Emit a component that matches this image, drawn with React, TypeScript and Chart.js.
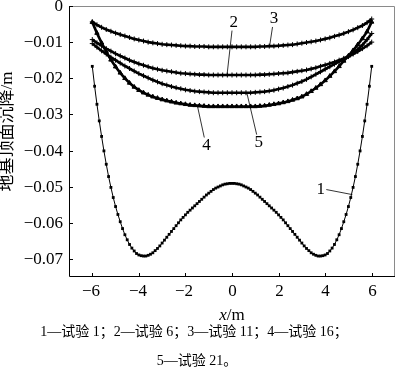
import React, { useEffect, useRef } from "react";
import { Chart, registerables } from "chart.js";

Chart.register(...registerables);

// ---------- data ----------
const xTicks = [-6, -4, -2, 0, 2, 4, 6];
const yTicks = [0, -0.01, -0.02, -0.03, -0.04, -0.05, -0.06, -0.07];

// sample positions (x, m)
const xFine = Array.from({ length: 121 }, (_, i) => Math.round((-6 + i * 0.1) * 10) / 10);
const xCoarse = Array.from({ length: 61 }, (_, i) => Math.round((-6 + i * 0.2) * 10) / 10);

// 试验 1 (x = -6 .. 6, step 0.1)
const test1 = [
  -0.0167, -0.0222, -0.0272, -0.0318, -0.0361, -0.0401, -0.0438, -0.0472, -0.0502, -0.0530,
  -0.0555, -0.0577, -0.0597, -0.0616, -0.0633, -0.0647, -0.0660, -0.0670, -0.0678, -0.0685,
  -0.0689, -0.0691, -0.0692, -0.0692, -0.0690, -0.0687, -0.0683, -0.0677, -0.0671, -0.0664,
  -0.0656, -0.0648, -0.0640, -0.0632, -0.0624, -0.0616, -0.0608, -0.0600, -0.0592, -0.0585,
  -0.0578, -0.0571, -0.0565, -0.0559, -0.0553, -0.0547, -0.0541, -0.0535, -0.0529, -0.0523,
  -0.0518, -0.0513, -0.0508, -0.0504, -0.0501, -0.0498, -0.0495, -0.0493, -0.0492, -0.0491,
  -0.0491,
  -0.0491, -0.0492, -0.0493, -0.0495, -0.0498, -0.0501, -0.0504, -0.0508, -0.0513, -0.0518,
  -0.0523, -0.0529, -0.0535, -0.0541, -0.0547, -0.0553, -0.0559, -0.0565, -0.0571, -0.0578,
  -0.0585, -0.0592, -0.0600, -0.0608, -0.0616, -0.0624, -0.0632, -0.0640, -0.0648, -0.0656,
  -0.0664, -0.0671, -0.0677, -0.0683, -0.0687, -0.0690, -0.0692, -0.0692, -0.0691, -0.0689,
  -0.0685, -0.0678, -0.0670, -0.0660, -0.0647, -0.0633, -0.0616, -0.0597, -0.0577, -0.0555,
  -0.0530, -0.0502, -0.0472, -0.0438, -0.0401, -0.0361, -0.0318, -0.0272, -0.0222, -0.0167,
];

// 试验 6 (x = -6 .. 6, step 0.2)
const test6 = [
  -0.0093, -0.0102, -0.0110, -0.0118, -0.0125, -0.0132, -0.0138, -0.0144, -0.0150, -0.0155,
  -0.0160, -0.0164, -0.0168, -0.0172, -0.0175, -0.0178, -0.0180, -0.0182, -0.0184, -0.0186,
  -0.0187, -0.0188, -0.0189, -0.0190, -0.0190, -0.0191, -0.0191, -0.0191, -0.0191, -0.0191,
  -0.0191,
  -0.0191, -0.0191, -0.0191, -0.0191, -0.0191, -0.0190, -0.0190, -0.0189, -0.0188, -0.0187,
  -0.0186, -0.0185, -0.0183, -0.0181, -0.0179, -0.0177, -0.0174, -0.0171, -0.0167, -0.0163,
  -0.0159, -0.0155, -0.0150, -0.0145, -0.0139, -0.0130, -0.0120, -0.0108, -0.0093, -0.0076,
];

// 试验 11
const test11 = [
  -0.0044, -0.0052, -0.0059, -0.0065, -0.0070, -0.0075, -0.0079, -0.0083, -0.0087, -0.0091,
  -0.0094, -0.0097, -0.0100, -0.0102, -0.0104, -0.0106, -0.0107, -0.0108, -0.0109, -0.0110,
  -0.0111, -0.0111, -0.0112, -0.0112, -0.0112, -0.0113, -0.0113, -0.0113, -0.0113, -0.0113,
  -0.0113,
  -0.0113, -0.0113, -0.0113, -0.0113, -0.0113, -0.0112, -0.0112, -0.0111, -0.0111, -0.0110,
  -0.0109, -0.0108, -0.0107, -0.0105, -0.0103, -0.0101, -0.0099, -0.0097, -0.0094, -0.0091,
  -0.0088, -0.0084, -0.0080, -0.0076, -0.0071, -0.0066, -0.0060, -0.0054, -0.0046, -0.0036,
];

// 试验 16
const test16 = [
  -0.0045, -0.0075, -0.0102, -0.0127, -0.0149, -0.0168, -0.0185, -0.0200, -0.0213, -0.0224,
  -0.0233, -0.0240, -0.0246, -0.0251, -0.0255, -0.0259, -0.0262, -0.0265, -0.0268, -0.0270,
  -0.0272, -0.0274, -0.0275, -0.0276, -0.0277, -0.0278, -0.0278, -0.0278, -0.0278, -0.0278,
  -0.0278,
  -0.0278, -0.0278, -0.0278, -0.0278, -0.0278, -0.0277, -0.0276, -0.0274, -0.0272, -0.0270,
  -0.0267, -0.0264, -0.0260, -0.0256, -0.0251, -0.0244, -0.0236, -0.0227, -0.0217, -0.0206,
  -0.0194, -0.0181, -0.0167, -0.0152, -0.0138, -0.0123, -0.0107, -0.0090, -0.0071, -0.0044,
];

// 试验 21
const test21 = [
  -0.0104, -0.0114, -0.0124, -0.0133, -0.0142, -0.0150, -0.0158, -0.0166, -0.0173, -0.0180,
  -0.0187, -0.0193, -0.0199, -0.0205, -0.0210, -0.0215, -0.0219, -0.0223, -0.0226, -0.0229,
  -0.0232, -0.0234, -0.0236, -0.0237, -0.0238, -0.0239, -0.0240, -0.0240, -0.0240, -0.0240,
  -0.0240,
  -0.0240, -0.0240, -0.0240, -0.0240, -0.0239, -0.0238, -0.0237, -0.0235, -0.0233, -0.0230,
  -0.0227, -0.0223, -0.0219, -0.0214, -0.0209, -0.0203, -0.0196, -0.0189, -0.0182, -0.0175,
  -0.0168, -0.0161, -0.0154, -0.0147, -0.0140, -0.0133, -0.0126, -0.0118, -0.0110, -0.0100,
];

const curveNames = ["1", "2", "3", "4", "5"];
const xTitleItalic = "x";
const xTitleRest = "/m";
const yTitle = "地基顶面沉降/m";
const captionLine1 = "1—试验 1；2—试验 6；3—试验 11；4—试验 16；";
const captionLine2 = "5—试验 21。";

// label text anchors and leader lines, in data units
const labelAnchors = [
  { x: 3.81, y: -0.0508, x0: 4.05, y0: -0.0508, x1: 5.17, y1: -0.0522 },
  { x: 0.08, y: -0.0045, x0: 0.0, y0: -0.0068, x1: -0.21, y1: -0.0189 },
  { x: 1.8, y: -0.0034, x0: 1.74, y0: -0.0058, x1: 1.61, y1: -0.0113 },
  { x: -1.1, y: -0.0387, x0: -1.19, y0: -0.0364, x1: -1.48, y1: -0.0278 },
  { x: 1.15, y: -0.0379, x0: 1.06, y0: -0.0356, x1: 0.64, y1: -0.0241 },
];

const SERIF = '"Liberation Serif", "Times New Roman", serif';
const MIXED = '"Liberation Serif", "Noto Sans CJK SC", serif';

const toPts = (xs: number[], ys: number[]) => xs.map((x, i) => ({ x, y: ys[i] }));
const fmtMinus = (v: number, d: number) => (v === 0 ? "0" : (v < 0 ? "\u2212" : "") + Math.abs(v).toFixed(d));

const decorPlugin = {
  id: "decor",
  afterDraw(chart: any) {
    const { ctx, chartArea: a, scales } = chart;
    const xs = scales.x;
    const ys = scales.y;
    ctx.save();
    // frame
    ctx.lineWidth = 1;
    ctx.strokeStyle = "#8a8a8a";
    ctx.beginPath();
    ctx.moveTo(a.left, a.top + 0.5);
    ctx.lineTo(a.right - 0.5, a.top + 0.5);
    ctx.lineTo(a.right - 0.5, a.bottom);
    ctx.stroke();
    ctx.strokeStyle = "#000";
    ctx.beginPath();
    ctx.moveTo(a.left + 0.5, a.top);
    ctx.lineTo(a.left + 0.5, a.bottom - 0.5);
    ctx.lineTo(a.right, a.bottom - 0.5);
    ctx.stroke();
    // inward tick marks + tick labels
    ctx.fillStyle = "#000";
    ctx.font = `17px ${SERIF}`;
    ctx.beginPath();
    ctx.textAlign = "center";
    ctx.textBaseline = "middle";
    xTicks.forEach((v) => {
      const px = Math.round(xs.getPixelForValue(v)) + 0.5;
      ctx.moveTo(px, a.bottom);
      ctx.lineTo(px, a.bottom - 4);
      const shift = v < 0 ? -1.5 : 0;
      ctx.fillText(fmtMinus(v, 0), px + shift, a.bottom + 15);
    });
    ctx.textAlign = "right";
    yTicks.forEach((v) => {
      const py = Math.round(ys.getPixelForValue(v)) + 0.5;
      ctx.moveTo(a.left, py);
      ctx.lineTo(a.left + 4, py);
      ctx.fillText(fmtMinus(v, 2), a.left - 6, py);
    });
    ctx.stroke();

    // curve labels + leaders
    ctx.font = `17px ${SERIF}`;
    ctx.textAlign = "center";
    ctx.textBaseline = "middle";
    ctx.lineWidth = 0.8;
    labelAnchors.forEach((l, i) => {
      ctx.fillText(curveNames[i], xs.getPixelForValue(l.x), ys.getPixelForValue(l.y));
      ctx.beginPath();
      ctx.moveTo(xs.getPixelForValue(l.x0), ys.getPixelForValue(l.y0));
      ctx.lineTo(xs.getPixelForValue(l.x1), ys.getPixelForValue(l.y1));
      ctx.stroke();
    });

    // x title
    const cx = xs.getPixelForValue(0);
    ctx.font = `italic 17px ${SERIF}`;
    const wI = ctx.measureText(xTitleItalic).width;
    ctx.font = `17px ${SERIF}`;
    const wR = ctx.measureText(xTitleRest).width;
    const sx = cx - (wI + wR) / 2;
    ctx.textAlign = "left";
    ctx.textBaseline = "alphabetic";
    ctx.font = `italic 17px ${SERIF}`;
    ctx.fillText(xTitleItalic, sx, 320);
    ctx.font = `17px ${SERIF}`;
    ctx.fillText(xTitleRest, sx + wI, 320);

    // y title
    ctx.save();
    ctx.translate(8, 131.5);
    ctx.rotate(-Math.PI / 2);
    ctx.textAlign = "center";
    ctx.textBaseline = "middle";
    ctx.font = `17px ${MIXED}`;
    ctx.fillText(yTitle, 0, 0);
    ctx.restore();

    // caption
    ctx.textAlign = "center";
    ctx.textBaseline = "middle";
    ctx.font = `14px ${MIXED}`;
    ctx.fillText(captionLine1, 194, 332);
    ctx.fillText(captionLine2, 197, 361);
    ctx.restore();
  },
};

export default function App() {
  const ref = useRef<HTMLCanvasElement | null>(null);
  useEffect(() => {
    document.body.style.margin = "0";
    const canvas = ref.current;
    if (!canvas) return;
    const black = "#000";
    const band = (label: string, ys: number[], style: string) => ({
      label,
      data: toPts(xCoarse, ys),
      borderColor: black,
      backgroundColor: black,
      borderWidth: 2.6,
      pointStyle: style,
      pointRadius: 2.5,
      pointBorderWidth: 1,
    });
    const chart = new Chart(canvas, {
      type: "line",
      data: {
        datasets: [
          {
            label: curveNames[0],
            data: toPts(xFine, test1),
            borderColor: black,
            backgroundColor: black,
            borderWidth: 1,
            pointStyle: "rect",
            pointRadius: 2,
            pointBorderWidth: 0,
          },
          band(curveNames[1], test6, "cross"),
          band(curveNames[2], test11, "cross"),
          band(curveNames[3], test16, "triangle"),
          band(curveNames[4], test21, "cross"),
        ],
      },
      options: {
        animation: false,
        responsive: true,
        maintainAspectRatio: false,
        layout: { padding: { top: 6, right: 2, left: 0, bottom: 0 } },
        plugins: { legend: { display: false }, tooltip: { enabled: false } },
        elements: { line: { tension: 0 } },
        scales: {
          x: {
            type: "linear",
            min: -7,
            max: 7,
            grid: { display: false },
            border: { display: false },
            ticks: { display: false },
            afterBuildTicks: (s: any) => {
              s.ticks = xTicks.map((v) => ({ value: v }));
            },
            afterFit: (s: any) => {
              s.height = 91;
            },
          },
          y: {
            type: "linear",
            min: -0.075,
            max: 0,
            grid: { display: false },
            border: { display: false },
            ticks: { display: false },
            afterBuildTicks: (s: any) => {
              s.ticks = yTicks.map((v) => ({ value: v }));
            },
            afterFit: (s: any) => {
              s.width = 69;
            },
          },
        },
      },
      plugins: [decorPlugin],
    } as any);
    return () => chart.destroy();
  }, []);
  return (
    <div style={{ width: 400, height: 368, position: "relative", background: "#fff" }}>
      <canvas ref={ref} />
    </div>
  );
}
